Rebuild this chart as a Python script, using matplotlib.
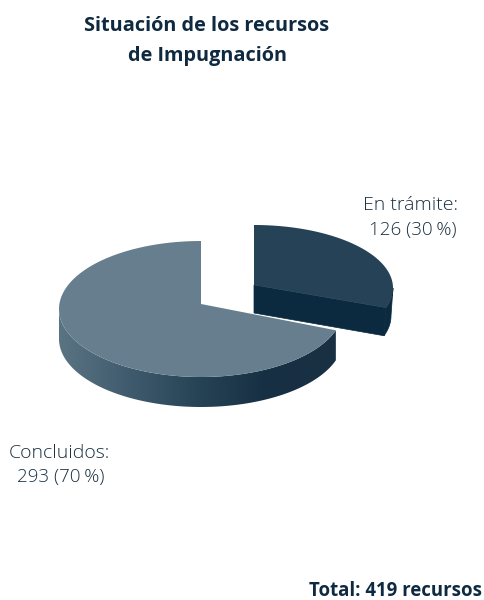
import numpy as np
import matplotlib
matplotlib.use("Agg")
import matplotlib.pyplot as plt
from matplotlib.colors import LinearSegmentedColormap
from matplotlib.patches import Polygon

plt.rcParams["font.family"] = ["Open Sans", "DejaVu Sans"]

title_lines = ["Situación de los recursos", "de Impugnación"]
categories = ["En trámite", "Concluidos"]
values = [126, 293]
percents = [30, 70]
total = 419

side_colors = ["#5b7484", "#3f5b6d", "#274356", "#172f43", "#1a3144"]


def arc(cx, cy, rx, ry, t0, t1, n=120):
    # angles in degrees, clockwise from the top of the ellipse
    t = np.radians(np.linspace(t0, t1, n))
    return np.column_stack([cx + rx * np.sin(t), cy - ry * np.cos(t)])


fig = plt.figure(figsize=(4.84, 6), dpi=100)
ax = fig.add_axes([0, 0, 1, 1])

# angle of the cut between both slices
cut = 360 * values[0] / sum(values)

# exploded slice goes first, the main face covers the foot of its wall
sx, sy, srx, sry, sdepth = 254, 288, 139, 63, 28
apex = np.array([sx, 285])
slice_arc = arc(sx, sy, srx, sry, 0, cut)
outer = arc(sx, sy, srx, sry, 90, cut, 30)
dark_wall = "#0b2a3f"
cut_face = np.array([apex, outer[-1], outer[-1] + [-2, sdepth], apex + [0, sdepth]])
ax.add_patch(Polygon(cut_face, closed=True, facecolor=dark_wall, edgecolor=dark_wall, lw=0.5))
outer_face = np.vstack([outer, outer[::-1] + [-2, sdepth]])
ax.add_patch(Polygon(outer_face, closed=True, facecolor=dark_wall, edgecolor=dark_wall, lw=0.5))
ax.add_patch(Polygon(np.vstack([[apex], slice_arc]), closed=True, facecolor="#264256", edgecolor="none"))

# main slice, wall with a horizontal gradient
cx, cy, rx, ry, depth = 201, 309, 142, 68, 30
top_arc = arc(cx, cy, rx, ry, cut, 270)
wall = np.vstack([top_arc, top_arc[::-1] + [0, depth]])
wall_patch = Polygon(wall, closed=True, facecolor="none", edgecolor="none")
ax.add_patch(wall_patch)
cmap = LinearSegmentedColormap.from_list("side", side_colors)
img = ax.imshow(np.linspace(0, 1, 256).reshape(1, -1), cmap=cmap, aspect="auto",
                extent=[cx - rx, wall[:, 0].max(), cy + ry + depth, cy])
img.set_clip_path(wall_patch)

face = np.vstack([[[cx, 304]], arc(cx, cy, rx, ry, cut, 360)])
ax.add_patch(Polygon(face, closed=True, facecolor="#667e8e", edgecolor="none"))

ax.set_xlim(0, 484)
ax.set_ylim(600, 0)
ax.axis("off")

# texts
dark = "#0f2a40"
for line, y in zip(title_lines, [26, 56]):
    ax.text(207, y, line, ha="center", va="center", fontsize=14.3, fontweight="bold", color=dark)

label_color = "#1a3040"
ax.text(410.5, 205, categories[0] + ":", ha="center", va="center", fontsize=14, fontweight="light", color=label_color)
ax.text(413, 230, f"{values[0]} ({percents[0]}\u2009%)", ha="center", va="center", fontsize=13.5, fontweight="light", color=label_color)
ax.text(59, 453, categories[1] + ":", ha="center", va="center", fontsize=14, fontweight="light", color=label_color)
ax.text(61, 477, f"{values[1]} ({percents[1]}\u2009%)", ha="center", va="center", fontsize=13.5, fontweight="light", color=label_color)
ax.text(482, 591, f"Total: {total} recursos", ha="right", va="center", fontsize=13.4, fontweight="bold", color=dark)

fig.savefig("out.png", dpi=100)
